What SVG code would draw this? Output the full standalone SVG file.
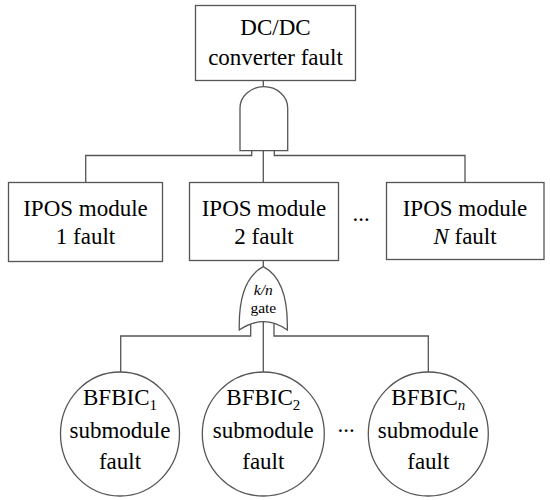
<svg xmlns="http://www.w3.org/2000/svg" width="550" height="500" viewBox="0 0 550 500">
<style>
.b{fill:#fff;stroke:#555;stroke-width:1.3}
.c{fill:none;stroke:#555;stroke-width:1.3}
.t{font-family:"Liberation Serif","Times New Roman",serif;font-size:23px;fill:#000;text-anchor:middle}
.g{font-family:"Liberation Serif","Times New Roman",serif;font-size:15.5px;fill:#000;text-anchor:middle}
.s{font-size:15px}
</style>
<rect width="550" height="500" fill="#fff"/>
<g id="connectors">
<path class="c" d="M263.3,80.5V86.7"/>
<path class="c" d="M251.7,145V155.5H85.7V182.5"/>
<path class="c" d="M274.3,145V155.5H465V182.5"/>
<path class="c" d="M263.3,145V182.5"/>
<path class="c" d="M263.3,260.5V267"/>
<path class="c" d="M250.7,318V336H120.7V372"/>
<path class="c" d="M274,318V336H428.3V372"/>
<path class="c" d="M263.3,318V372"/>
</g>
<g id="top">
<rect class="b" x="195.5" y="5.5" width="160" height="75"/>
<text class="t" x="275.5" y="35">DC/DC</text>
<text class="t" x="275.5" y="65">converter fault</text>
</g>
<g id="and-gate">
<path class="b" d="M240,150.7V108A23.85,21.3 0 0 1 287.7,108V150.7Z"/>
</g>
<g id="ipos1">
<rect class="b" x="8.5" y="182.5" width="154" height="79"/>
<text class="t" x="85.5" y="215.7">IPOS module</text>
<text class="t" x="85.5" y="244">1 fault</text>
</g>
<g id="ipos2">
<rect class="b" x="189.5" y="182.5" width="149" height="78"/>
<text class="t" x="264" y="215.7">IPOS module</text>
<text class="t" x="264" y="244">2 fault</text>
</g>
<text class="t" x="361" y="221">...</text>
<g id="iposN">
<rect class="b" x="386.5" y="182.5" width="157.5" height="77"/>
<text class="t" x="465" y="215.7">IPOS module</text>
<text class="t" x="465" y="244"><tspan font-style="italic">N</tspan> fault</text>
</g>
<g id="kn-gate">
<path class="b" d="M239.3,330Q238,280 263.3,266.7Q288.6,280 287.3,330Q263.3,313.4 239.3,330Z"/>
<text class="g" x="263.3" y="295" font-style="italic">k/n</text>
<text class="g" x="263.3" y="313">gate</text>
</g>
<g id="bfbic1">
<ellipse class="b" cx="120" cy="434" rx="59.5" ry="62"/>
<text class="t" x="120" y="405">BFBIC<tspan class="s" dy="5">1</tspan></text>
<text class="t" x="120" y="438.3">submodule</text>
<text class="t" x="120" y="469">fault</text>
</g>
<g id="bfbic2">
<ellipse class="b" cx="263.3" cy="434" rx="61" ry="62"/>
<text class="t" x="263.3" y="405">BFBIC<tspan class="s" dy="5">2</tspan></text>
<text class="t" x="263.3" y="438.3">submodule</text>
<text class="t" x="263.3" y="469">fault</text>
</g>
<text class="t" x="346" y="432">...</text>
<g id="bfbicn">
<ellipse class="b" cx="428.3" cy="434" rx="60" ry="62"/>
<text class="t" x="428.3" y="405">BFBIC<tspan class="s" dy="5" font-style="italic">n</tspan></text>
<text class="t" x="428.3" y="438.3">submodule</text>
<text class="t" x="428.3" y="469">fault</text>
</g>
</svg>
